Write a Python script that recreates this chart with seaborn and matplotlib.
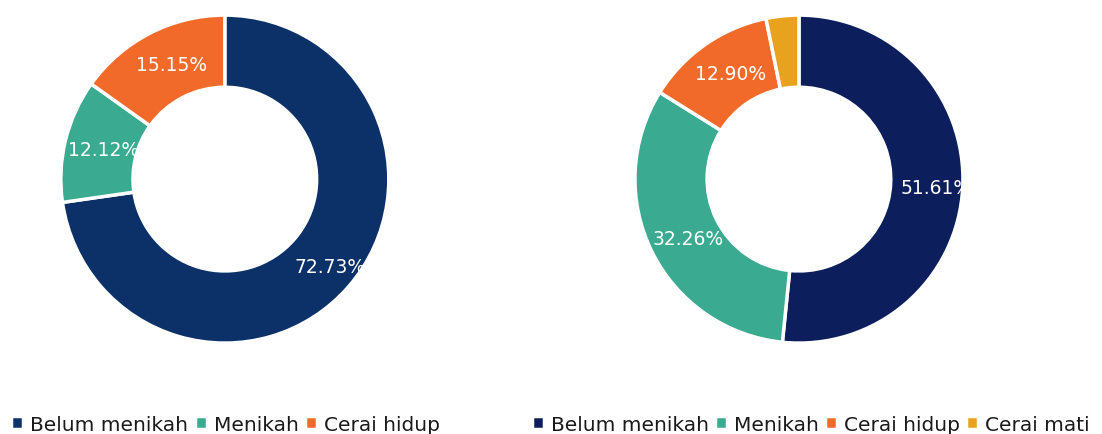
import matplotlib.pyplot as plt
import numpy as np
import seaborn as sns

# %% data
left_labels = ["Belum menikah", "Menikah", "Cerai hidup"]
left_values = [72.73, 12.12, 15.15]
left_colors = ["#0b3168", "#3aaa90", "#f26a2a"]

right_labels = ["Belum menikah", "Menikah", "Cerai hidup", "Cerai mati"]
right_values = [51.61, 32.26, 12.90, 3.23]
right_colors = ["#0c1f5c", "#3aaa90", "#f26a2a", "#e8a21e"]

sns.set_theme(style="white")
plt.rcParams['font.family'] = ['DejaVu Sans']

fig = plt.figure(figsize=(11.02, 4.35), dpi=100)
ax1 = fig.add_axes([0.204 - 0.149, 0.586 - 0.377, 0.298, 0.754])
ax2 = fig.add_axes([0.725 - 0.149, 0.586 - 0.377, 0.298, 0.754])


def donut(ax, values, colors):
    wedges, texts = ax.pie(values, colors=colors, startangle=90, counterclock=False,
                           wedgeprops=dict(width=0.44, edgecolor="white", linewidth=2.5))
    for w, v in zip(wedges, values):
        if v < 5:
            continue
        ang = np.deg2rad((w.theta1 + w.theta2) / 2)
        r = 0.80
        ax.text(r * np.cos(ang) + 0.04, r * np.sin(ang) - 0.01, f"{v:.2f}%",
                ha="center", va="center", color="white", fontsize=13.5)
    ax.set_aspect("equal")
    ax.set_xlim(-1.0, 1.0)
    ax.set_ylim(-1.0, 1.0)
    return wedges


w1 = donut(ax1, left_values, left_colors)
w2 = donut(ax2, right_values, right_colors)

leg_kw = dict(frameon=False, fontsize=14.5, handlelength=0.6, handleheight=0.6,
              handletextpad=0.35, columnspacing=0.3, borderaxespad=0.0,
              labelcolor="#1a1a1a")
fig.legend(w1, left_labels, loc="lower left", bbox_to_anchor=(0.003, -0.018), ncol=3, **leg_kw)
fig.legend(w2, right_labels, loc="lower left", bbox_to_anchor=(0.475, -0.018), ncol=4, **leg_kw)

fig.savefig("out.png", dpi=100)
